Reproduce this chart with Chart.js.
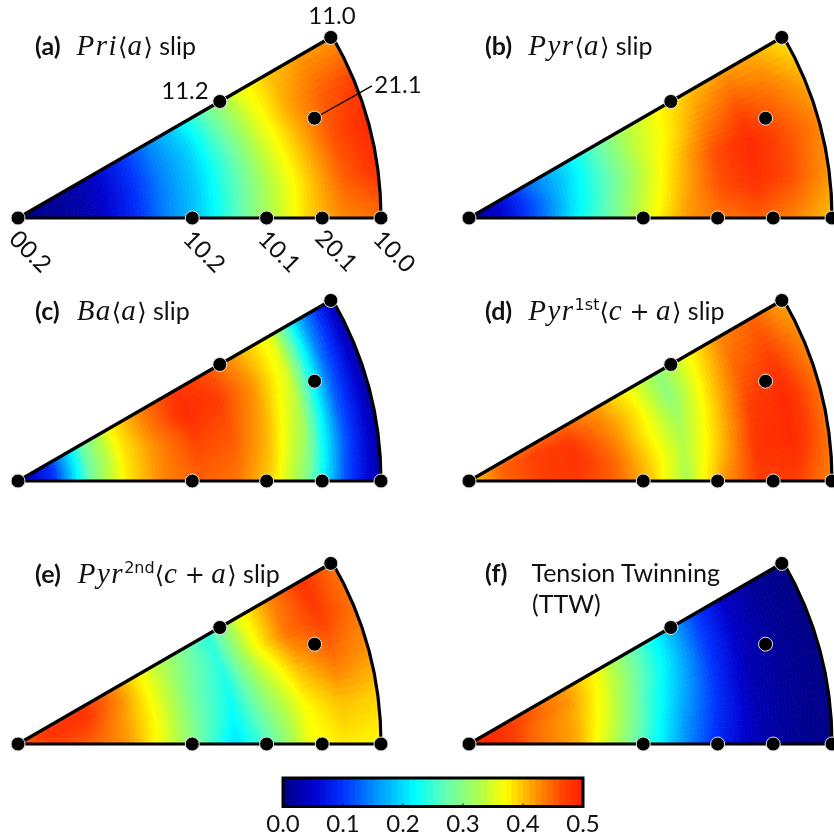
<!DOCTYPE html>
<html>
<head>
<meta charset="utf-8">
<script src="https://cdn.jsdelivr.net/npm/chart.js@4"></script>
<style>
    html, body { margin: 0; padding: 0; background: #fff; }
    #page { position: relative; width: 834px; height: 836px; overflow: hidden; color: #111; font-family: Lato, sans-serif; }
    canvas { position: absolute; }
    .lbl { position: absolute; white-space: nowrap; transform: translate(-50%, -50%); font-size: 24px; line-height: 1; }
    .rot { transform: translate(-50%, -50%) rotate(45deg); }
    .ttl { position: absolute; white-space: nowrap; transform: translateY(-50%); font-size: 25px; line-height: 1; }
    .ttl b { font-weight: 700; }
    .ttl i { font-family: "Liberation Serif", serif; font-size: 29px; letter-spacing: 1.5px; }
    .ttl sup { font-family: "DejaVu Sans", sans-serif; font-size: 16px; line-height: 0; }
    .ttl .m { font-family: "DejaVu Serif", serif; font-size: 24px; }
</style>
</head>
<body>
<div id="page"></div>
<script>
// Grid the maps were read on
const radii = [0, 0.1, 0.2, 0.3, 0.4, 0.5, 0.6, 0.7, 0.8, 0.9, 1];
const angles = [0, 7.5, 15, 22.5, 30];

// Schmid factor, one row per angle
const priA = [
    [.00, .01, .03, .08, .14, .19, .26, .33, .39, .43, .44],
    [.00, .01, .03, .08, .14, .19, .26, .33, .39, .45, .48],
    [.00, .01, .03, .08, .14, .19, .26, .34, .40, .46, .49],
    [.00, .01, .03, .08, .14, .19, .27, .35, .41, .45, .47],
    [.00, .01, .03, .08, .14, .20, .28, .36, .40, .42, .42]
];
const pyrA = [
    [.01, .06, .13, .22, .28, .36, .42, .44, .45, .43, .40],
    [.01, .06, .13, .21, .28, .35, .41, .46, .48, .46, .42],
    [.01, .06, .13, .21, .27, .34, .40, .46, .49, .46, .43],
    [.01, .06, .14, .20, .27, .34, .38, .43, .46, .44, .41],
    [.01, .07, .14, .20, .27, .33, .37, .40, .42, .41, .38]
];
const baA = [
    [.02, .10, .28, .38, .43, .45, .44, .39, .29, .12, .02],
    [.02, .10, .28, .38, .43, .46, .45, .40, .31, .13, .02],
    [.02, .10, .28, .38, .43, .47, .46, .41, .33, .13, .02],
    [.02, .10, .28, .38, .44, .49, .47, .42, .35, .14, .02],
    [.02, .10, .27, .38, .44, .48, .46, .41, .36, .16, .03]
];
const pyr1CA = [
    [.39, .44, .47, .47, .45, .40, .32, .42, .47, .47, .43],
    [.39, .45, .47, .48, .45, .39, .33, .40, .48, .49, .44],
    [.39, .45, .47, .48, .44, .38, .32, .39, .47, .49, .44],
    [.39, .45, .47, .47, .43, .38, .30, .38, .45, .47, .43],
    [.39, .44, .45, .45, .42, .37, .30, .37, .43, .45, .41]
];
const pyr2CA = [
    [.44, .47, .45, .42, .36, .28, .20, .27, .36, .38, .37],
    [.45, .47, .46, .42, .36, .28, .22, .30, .37, .40, .39],
    [.45, .48, .47, .42, .36, .28, .23, .33, .40, .44, .42],
    [.45, .48, .48, .43, .36, .29, .24, .36, .44, .47, .44],
    [.45, .47, .48, .43, .36, .30, .24, .36, .43, .48, .44]
];
const ttw = [
    [.50, .48, .44, .41, .33, .24, .15, .08, .03, .01, .00],
    [.50, .48, .44, .41, .34, .25, .16, .09, .03, .01, .00],
    [.50, .48, .44, .41, .35, .26, .18, .10, .03, .01, .00],
    [.50, .48, .45, .42, .36, .28, .20, .11, .04, .01, .00],
    [.50, .48, .45, .42, .37, .29, .21, .12, .05, .01, .00]
];

// Poles on the triangle
const poleNames = ['00.2', '10.2', '10.1', '20.1', '10.0', '11.2', '11.0', '21.1'];
const poleRadius = [0, 0.48, 0.685, 0.838, 1, 0.642, 0.995, 0.862];
const poleAngle = [0, 0, 0, 0, 0, 30, 30, 18.6];

// Colour scale
const scaleLevels = [0, 0.05, 0.1, 0.15, 0.22, 0.27, 0.33, 0.37, 0.42, 0.47, 0.5];
const scaleRed = [0, 0, 0, 0, 0, 100, 180, 255, 255, 255, 255];
const scaleGreen = [0, 0, 50, 140, 255, 255, 255, 255, 150, 60, 30];
const scaleBlue = [135, 205, 255, 255, 255, 180, 70, 0, 0, 0, 0];
const scaleTicks = [0, 0.1, 0.2, 0.3, 0.4, 0.5];

const unit = 363; // pixels for radius 1
const page = document.getElementById('page');

function valueColor(v) {
    let i = 0;
    while (i < scaleLevels.length - 2 && v > scaleLevels[i + 1]) i++;
    const t = Math.min(1, Math.max(0, (v - scaleLevels[i]) / (scaleLevels[i + 1] - scaleLevels[i])));
    const mix = (c) => Math.round(c[i] + (c[i + 1] - c[i]) * t);
    return `rgb(${mix(scaleRed)},${mix(scaleGreen)},${mix(scaleBlue)})`;
}

function toXY(r, deg) {
    const a = deg * Math.PI / 180;
    return { x: r * Math.cos(a), y: r * Math.sin(a) };
}

function addCanvas(left, top, width, height) {
    const c = document.createElement('canvas');
    c.width = width;
    c.height = height;
    c.style.left = left + 'px';
    c.style.top = top + 'px';
    page.appendChild(c);
    return c;
}

// Paints the polar cells and the arc under the datasets
const mapPlugin = {
    id: 'mapCells',
    beforeDatasetsDraw(chart, args, opts) {
        const ctx = chart.ctx;
        const sx = chart.scales.x, sy = chart.scales.y;
        const px = (r, deg) => {
            const p = toXY(r, deg);
            return [sx.getPixelForValue(p.x), sy.getPixelForValue(p.y)];
        };
        const grid = opts.values;
        const nr = 10, na = 6; // shading steps inside one cell
        ctx.save();
        ctx.lineWidth = 0.8;
        for (let j = 0; j < angles.length - 1; j++) {
            for (let i = 0; i < radii.length - 1; i++) {
                for (let a = 0; a < na; a++) {
                    for (let b = 0; b < nr; b++) {
                        const ta = (a + 0.5) / na, tr = (b + 0.5) / nr;
                        const v = (grid[j][i] * (1 - tr) + grid[j][i + 1] * tr) * (1 - ta)
                            + (grid[j + 1][i] * (1 - tr) + grid[j + 1][i + 1] * tr) * ta;
                        const r0 = radii[i] + (radii[i + 1] - radii[i]) * b / nr;
                        const r1 = radii[i] + (radii[i + 1] - radii[i]) * (b + 1) / nr;
                        const d0 = angles[j] + (angles[j + 1] - angles[j]) * a / na;
                        const d1 = angles[j] + (angles[j + 1] - angles[j]) * (a + 1) / na;
                        const col = valueColor(v);
                        ctx.fillStyle = col;
                        ctx.strokeStyle = col;
                        ctx.beginPath();
                        ctx.moveTo(...px(r0, d0));
                        ctx.lineTo(...px(r1, d0));
                        ctx.lineTo(...px(r1, d1));
                        ctx.lineTo(...px(r0, d1));
                        ctx.closePath();
                        ctx.fill();
                        ctx.stroke();
                    }
                }
            }
        }
        // Outer arc from 10.0 to 11.0
        const o = px(0, 0);
        ctx.strokeStyle = '#000';
        ctx.lineWidth = 3.2;
        ctx.beginPath();
        ctx.arc(o[0], o[1], sx.getPixelForValue(1) - o[0], -Math.PI / 6, 0);
        ctx.stroke();
        ctx.restore();
    }
};

function drawPanel(ox, oy, values, withLeader) {
    const left = ox - 18, top = oy - 205;
    const width = Math.min(430, 834 - left), height = 235;
    const poles = poleNames.map((n, i) => toXY(poleRadius[i], poleAngle[i]));
    const datasets = [{
        data: [toXY(1, 0), toXY(0, 0), toXY(1, 30)],
        showLine: true,
        borderColor: '#000',
        borderWidth: 3.2,
        pointRadius: 0,
        order: 3
    }, {
        data: poles,
        pointRadius: 7,
        pointBackgroundColor: '#000',
        pointBorderColor: '#e4e4e4',
        pointBorderWidth: 1,
        order: 1
    }];
    if (withLeader) {
        datasets.push({
            data: [poles[7], { x: 0.975, y: 0.364 }],
            showLine: true,
            borderColor: '#000',
            borderWidth: 1.3,
            pointRadius: 0,
            order: 2
        });
    }
    new Chart(addCanvas(left, top, width, height), {
        type: 'scatter',
        data: { datasets: datasets },
        options: {
            responsive: false,
            animation: false,
            layout: { padding: 0, autoPadding: false },
            plugins: {
                legend: { display: false },
                tooltip: { enabled: false },
                mapCells: { values: values }
            },
            scales: {
                x: { type: 'linear', display: false, min: -18 / unit, max: (width - 18) / unit },
                y: { type: 'linear', display: false, min: -30 / unit, max: 205 / unit }
            }
        },
        plugins: [mapPlugin]
    });
}

drawPanel(18, 218, priA, true);
drawPanel(469, 218, pyrA, false);
drawPanel(18, 481, baA, false);
drawPanel(469, 481, pyr1CA, false);
drawPanel(18, 744, pyr2CA, false);
drawPanel(469, 744, ttw, false);

// Colour bar, one thin stacked bar per step
const barStep = 0.01;
const barSets = [];
for (let k = 0; k < 50; k++) {
    barSets.push({
        data: [barStep],
        backgroundColor: valueColor((k + 0.5) * barStep),
        borderWidth: 0,
        barPercentage: 1,
        categoryPercentage: 1
    });
}
const framePlugin = {
    id: 'barFrame',
    afterDatasetsDraw(chart) {
        const a = chart.chartArea, ctx = chart.ctx, sx = chart.scales.x;
        ctx.save();
        ctx.strokeStyle = '#000';
        ctx.lineWidth = 1;
        scaleTicks.slice(1, -1).forEach(t => {
            const x = sx.getPixelForValue(t);
            ctx.beginPath();
            ctx.moveTo(x, a.bottom);
            ctx.lineTo(x, a.bottom - 3);
            ctx.stroke();
        });
        ctx.lineWidth = 3;
        ctx.strokeRect(a.left, a.top, a.right - a.left, a.bottom - a.top);
        ctx.restore();
    }
};
new Chart(addCanvas(250, 770, 370, 65), {
    type: 'bar',
    data: { labels: ['Schmid factor'], datasets: barSets },
    options: {
        indexAxis: 'y',
        responsive: false,
        animation: false,
        layout: { padding: { left: 33, right: 37, top: 8, bottom: 0 }, autoPadding: false },
        plugins: { legend: { display: false }, tooltip: { enabled: false } },
        scales: {
            x: {
                type: 'linear',
                stacked: true,
                min: 0,
                max: 0.5,
                afterBuildTicks: (axis) => { axis.ticks = scaleTicks.map(v => ({ value: v })); },
                grid: { display: false, drawTicks: false },
                border: { display: false },
                ticks: {
                    color: '#111',
                    padding: 3,
                    maxRotation: 0,
                    font: { family: 'Lato', size: 24 },
                    callback: (v) => v.toFixed(1)
                }
            },
            y: { stacked: true, display: false }
        }
    },
    plugins: [framePlugin]
});

// Pole labels
function addLabel(text, x, y, cls) {
    const d = document.createElement('div');
    d.className = cls;
    d.textContent = text;
    d.style.left = x + 'px';
    d.style.top = y + 'px';
    page.appendChild(d);
}
addLabel('11.0', 332, 15, 'lbl');
addLabel('11.2', 185, 90, 'lbl');
addLabel('21.1', 398, 84, 'lbl');
addLabel('00.2', 31, 251, 'lbl rot');
addLabel('10.2', 205, 251, 'lbl rot');
addLabel('10.1', 280, 251, 'lbl rot');
addLabel('20.1', 337, 250, 'lbl rot');
addLabel('10.0', 395, 251, 'lbl rot');

// Panel titles
function addTitle(tag, x, y, tagGap, html) {
    const d = document.createElement('div');
    d.className = 'ttl';
    d.style.left = x + 'px';
    d.style.top = y + 'px';
    d.innerHTML = `<b>${tag}</b><span style="display:inline-block;width:${tagGap}px"></span>${html}`;
    page.appendChild(d);
}
addTitle('(a)', 35, 45, 16, '<i>Pri</i><span class="m">⟨</span><i>a</i><span class="m">⟩</span> slip');
addTitle('(b)', 485, 45, 16, '<i>Pyr</i><span class="m">⟨</span><i>a</i><span class="m">⟩</span> slip');
addTitle('(c)', 35, 310, 17, '<i>Ba</i><span class="m">⟨</span><i>a</i><span class="m">⟩</span> slip');
addTitle('(d)', 485, 310, 16, '<i>Pyr</i><sup>1st</sup><span class="m">⟨</span><i>c</i> <span class="m">+</span> <i>a</i><span class="m">⟩</span> slip');
addTitle('(e)', 35, 573, 17, '<i>Pyr</i><sup>2nd</sup><span class="m">⟨</span><i>c</i> <span class="m">+</span> <i>a</i><span class="m">⟩</span> slip');
addTitle('(f)', 485, 572, 24, 'Tension Twinning');
addLabel('(TTW)', 0, 0, 'ttl');
const ttwLabel = page.lastChild;
ttwLabel.style.left = '532px';
ttwLabel.style.top = '603px';
</script>
</body>
</html>
